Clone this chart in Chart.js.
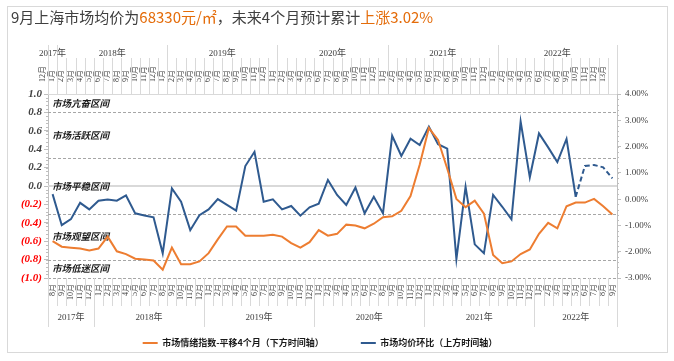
<!DOCTYPE html>
<html>
<head>
<meta charset="utf-8">
<script src="https://cdn.jsdelivr.net/npm/chart.js@4.4.0/dist/chart.umd.min.js"></script>
<style>
  html, body { margin: 0; padding: 0; background: #fff; }
  #wrap { position: relative; width: 674px; height: 361px; }
  #frame { position: absolute; left: 7px; top: 6px; width: 659px; height: 345px; border: 1px solid #d9d9d9; }
  #title { position: absolute; left: 11px; top: 8px; line-height: 18px; font-size: 15px; font-family: "Noto Sans CJK SC"; color: #404040; white-space: nowrap; }
  #title .hl { color: #E46C0A; }
  canvas { position: absolute; left: 0; top: 0; }
</style>
</head>
<body>
<div id="wrap">
  <div id="frame"></div>
  <canvas id="myChart" width="674" height="361"></canvas>
  <div id="title">9月上海市场均价为<span class="hl">68330元/㎡</span>，未来4个月预计累计<span class="hl">上涨3.02%</span></div>
</div>
<script>
// bottom time axis (sentiment index, shifted 4 months)
var bottomLabels = [
  '8月','9月','10月','11月','12月',
  '1月','2月','3月','4月','5月','6月','7月','8月','9月','10月','11月','12月',
  '1月','2月','3月','4月','5月','6月','7月','8月','9月','10月','11月','12月',
  '1月','2月','3月','4月','5月','6月','7月','8月','9月','10月','11月','12月',
  '1月','2月','3月','4月','5月','6月','7月','8月','9月','10月','11月','12月',
  '1月','2月','3月','4月','5月','6月','7月','8月','9月'
];
var bottomYears = ['2017年','2018年','2019年','2020年','2021年','2022年'];
var bottomYearCounts = [5, 12, 12, 12, 12, 9];

// top time axis (average price month on month)
var topLabels = [
  '12月',
  '1月','2月','3月','4月','5月','6月','7月','8月','9月','10月','11月','12月',
  '1月','2月','3月','4月','5月','6月','7月','8月','9月','10月','11月','12月',
  '1月','2月','3月','4月','5月','6月','7月','8月','9月','10月','11月','12月',
  '1月','2月','3月','4月','5月','6月','7月','8月','9月','10月','11月','12月',
  '1月','2月','3月','4月','5月','6月','7月','8月','9月','10月','11月','12月','13月'
];
var topYears = ['2017年','2018年','2019年','2020年','2021年','2022年'];
var topYearCounts = [1, 12, 12, 12, 12, 13];

var sentiment = [
  -0.60, -0.66, -0.67, -0.68, -0.70, -0.68, -0.55, -0.71, -0.74, -0.79,
  -0.80, -0.81, -0.91, -0.67, -0.85, -0.85, -0.82, -0.73, -0.58, -0.44,
  -0.44, -0.54, -0.54, -0.54, -0.53, -0.55, -0.62, -0.67, -0.61, -0.48,
  -0.54, -0.52, -0.42, -0.43, -0.46, -0.41, -0.34, -0.33, -0.27, -0.11,
  0.23, 0.63, 0.50, 0.19, -0.14, -0.23, -0.16, -0.30, -0.75, -0.84,
  -0.82, -0.74, -0.69, -0.52, -0.40, -0.46, -0.22, -0.18, -0.18, -0.14,
  -0.22, -0.31
];
var priceMoM = [
  0.19, -0.99, -0.76, -0.14, -0.39, -0.06, -0.01, -0.06, 0.14, -0.54,
  -0.62, -0.69, -2.06, 0.41, -0.10, -1.18, -0.61, -0.39, 0.00, -0.22,
  -0.44, 1.26, 1.80, -0.10, -0.01, -0.39, -0.26, -0.63, -0.31, -0.17,
  0.73, 0.16, -0.22, 0.44, -0.54, 0.09, -0.54, 2.41, 1.64, 2.30,
  2.06, 2.76, 2.09, 1.92, -2.28, 0.47, -1.72, -2.06, 0.16, -0.29,
  -0.77, 2.95, 0.83, 2.50, 1.97, 1.41, 2.29, 0.09, 1.26, 1.30,
  1.21, 0.79
];
var forecastFrom = 57; // 2022年9月 on top axis, dashed after it

var zoneNames = ['市场亢奋区间', '市场活跃区间', '市场平稳区间', '市场观望区间', '市场低迷区间'];
var zoneBounds = [1.0, 0.8, 0.3, -0.3, -0.8, -1.0];

var serif = "'Liberation Serif', 'Noto Sans CJK SC'";
var gridGray = '#d9d9d9';

function drawGroups(chart, scale, names, counts, side) {
  var ctx = chart.ctx, a = chart.chartArea;
  var total = counts.reduce(function (s, c) { return s + c; }, 0);
  var half = (scale.getPixelForValue(1) - scale.getPixelForValue(0)) / 2;
  function edge(i) {
    return i >= total ? scale.getPixelForValue(total - 1) + half : scale.getPixelForValue(i) - half;
  }
  var y0 = side === 'top' ? a.top : a.bottom;
  var yMonth = side === 'top' ? a.top - 36 : a.bottom + 28;
  var yYear = side === 'top' ? a.top - 49 : a.bottom + 49;
  var yText = side === 'top' ? a.top - 40 : a.bottom + 40;

  ctx.save();
  ctx.strokeStyle = gridGray;
  ctx.lineWidth = 1;
  var bounds = [0], run = 0;
  counts.forEach(function (c) { run += c; bounds.push(run); });
  for (var i = 0; i <= total; i++) {
    var px = Math.round(edge(i)) + 0.5;
    ctx.beginPath();
    ctx.moveTo(px, y0);
    ctx.lineTo(px, bounds.indexOf(i) >= 0 ? yYear : yMonth);
    ctx.stroke();
  }
  ctx.fillStyle = '#404040';
  ctx.font = '9px ' + serif;
  ctx.textAlign = 'center';
  ctx.textBaseline = 'middle';
  for (var g = 0; g < names.length; g++) {
    var cx = (edge(bounds[g]) + edge(bounds[g + 1])) / 2;
    ctx.fillText(names[g], cx, yText);
  }
  ctx.restore();
}

var decor = {
  id: 'decor',
  afterLayout: function (chart) {
    // legend sits a bit left of the page centre in the original
    chart.legend.right = chart.legend.right - 34;
  },
  beforeDatasetsDraw: function (chart) {
    var ctx = chart.ctx, a = chart.chartArea, y = chart.scales.y;
    ctx.save();
    ctx.strokeStyle = gridGray;
    ctx.lineWidth = 1;
    ctx.beginPath();
    ctx.moveTo(a.left, Math.round(y.getPixelForValue(1)) + 0.5);
    ctx.lineTo(a.right, Math.round(y.getPixelForValue(1)) + 0.5);
    ctx.stroke();
    ctx.lineWidth = 2;
    ctx.beginPath();
    ctx.moveTo(a.left, Math.round(y.getPixelForValue(0)));
    ctx.lineTo(a.right, Math.round(y.getPixelForValue(0)));
    ctx.stroke();

    ctx.strokeStyle = '#a6a6a6';
    ctx.lineWidth = 1;
    ctx.setLineDash([3, 2]);
    zoneBounds.slice(1).forEach(function (v) {
      var py = Math.round(y.getPixelForValue(v)) + 0.5;
      ctx.beginPath();
      ctx.moveTo(a.left, py);
      ctx.lineTo(a.right, py);
      ctx.stroke();
    });
    ctx.setLineDash([]);

    ctx.fillStyle = '#1a1a1a';
    ctx.font = 'italic bold 9.5px "Noto Sans CJK SC"';
    ctx.textAlign = 'left';
    ctx.textBaseline = 'middle';
    for (var i = 0; i < zoneNames.length; i++) {
      var mid = (zoneBounds[i] + zoneBounds[i + 1]) / 2;
      ctx.fillText(zoneNames[i], a.left + 4, y.getPixelForValue(mid));
    }
    ctx.restore();
  },
  afterDraw: function (chart) {
    var ctx = chart.ctx, a = chart.chartArea;
    drawGroups(chart, chart.scales.x2, topYears, topYearCounts, 'top');
    drawGroups(chart, chart.scales.x, bottomYears, bottomYearCounts, 'bottom');

    // minor ticks on both value axes
    ctx.save();
    ctx.strokeStyle = '#bfbfbf';
    ctx.lineWidth = 1;
    var y = chart.scales.y, y2 = chart.scales.y2;
    for (var k = 0; k <= 50; k++) {
      var py = Math.round(y.getPixelForValue(-1 + k * 0.04)) + 0.5;
      ctx.beginPath(); ctx.moveTo(a.left - 2, py); ctx.lineTo(a.left, py); ctx.stroke();
    }
    for (var m = 0; m <= 35; m++) {
      var py2 = Math.round(y2.getPixelForValue(-3 + m * 0.2)) + 0.5;
      ctx.beginPath(); ctx.moveTo(a.right, py2); ctx.lineTo(a.right + 2, py2); ctx.stroke();
    }
    ctx.restore();
  }
};

var ctx = document.getElementById('myChart').getContext('2d');
var myChart = new Chart(ctx, {
  type: 'line',
  data: {
    labels: bottomLabels,
    datasets: [{
      label: '市场情绪指数-平移4个月（下方时间轴）',
      data: sentiment,
      xAxisID: 'x',
      yAxisID: 'y',
      borderColor: '#ED7D31',
      backgroundColor: '#ED7D31',
      borderWidth: 2,
      pointRadius: 0,
      tension: 0
    }, {
      label: '市场均价环比（上方时间轴）',
      data: priceMoM,
      xAxisID: 'x2',
      yAxisID: 'y2',
      borderColor: '#2F5A8F',
      backgroundColor: '#2F5A8F',
      borderWidth: 2,
      pointRadius: 0,
      tension: 0,
      segment: {
        borderDash: function (c) { return c.p0DataIndex >= forecastFrom ? [5, 3] : undefined; }
      }
    }]
  },
  options: {
    responsive: false,
    animation: false,
    devicePixelRatio: 1,
    layout: { padding: { left: 0, right: 0, top: 42, bottom: 3.5 } },
    plugins: {
      legend: {
        position: 'bottom',
        labels: {
          usePointStyle: true,
          pointStyle: 'line',
          pointStyleWidth: 15,
          padding: 37,
          color: '#1a1a1a',
          font: { family: '"Noto Sans CJK SC"', size: 9, weight: 'bold' }
        }
      },
      tooltip: { enabled: false }
    },
    scales: {
      x: {
        type: 'category',
        position: 'bottom',
        offset: true,
        grid: { display: false, drawTicks: false },
        border: { display: false },
        ticks: {
          autoSkip: false, minRotation: 90, maxRotation: 90, padding: 6,
          color: '#404040', font: { family: serif, size: 8 }
        },
        afterFit: function (s) { s.height = 23.5; }
      },
      x2: {
        type: 'category',
        position: 'top',
        labels: topLabels,
        offset: true,
        grid: { display: false, drawTicks: false },
        border: { display: false },
        ticks: {
          autoSkip: false, minRotation: 90, maxRotation: 90, padding: 12,
          color: '#404040', font: { family: serif, size: 8 }
        },
        afterFit: function (s) { s.height = 52; }
      },
      y: {
        position: 'left',
        min: -1,
        max: 1,
        grid: { drawOnChartArea: false, tickLength: 4, color: '#bfbfbf' },
        border: { color: '#bfbfbf' },
        ticks: {
          stepSize: 0.2,
          padding: 2,
          font: { family: "'Liberation Serif'", size: 11, style: 'italic', weight: 'bold' },
          color: function (c) { return c.tick && c.tick.value < -0.001 ? '#FF0000' : '#404040'; },
          callback: function (v) {
            var r = Math.round(v * 10) / 10;
            return r < 0 ? '(' + (-r).toFixed(1) + ')' : r.toFixed(1);
          }
        },
        afterFit: function (s) { s.width = 48; }
      },
      y2: {
        position: 'right',
        min: -3,
        max: 4,
        grid: { drawOnChartArea: false, tickLength: 4, color: '#bfbfbf' },
        border: { color: '#bfbfbf' },
        ticks: {
          stepSize: 1,
          padding: 4,
          color: '#404040',
          font: { family: "'Liberation Serif'", size: 9 },
          callback: function (v) { return v.toFixed(2) + '%'; }
        },
        afterFit: function (s) { s.width = 57; }
      }
    }
  },
  plugins: [decor]
});
</script>
</body>
</html>
